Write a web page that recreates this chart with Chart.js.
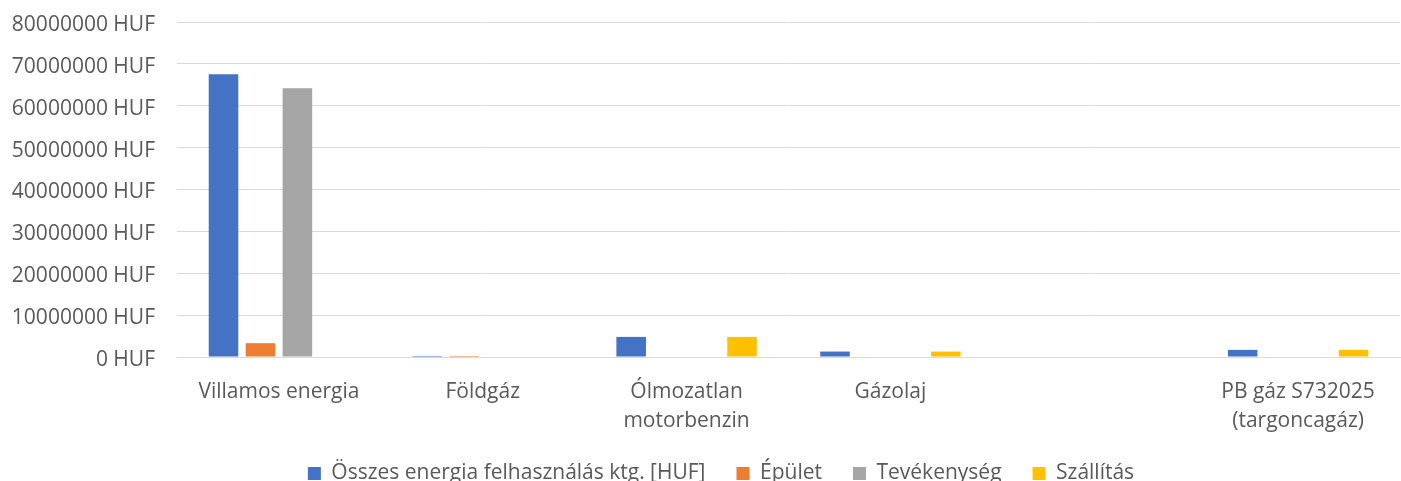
<!DOCTYPE html>
<html>
<head>
<meta charset="utf-8">
<script src="https://cdn.jsdelivr.net/npm/chart.js@4/dist/chart.umd.min.js"></script>
<style>
  html, body { margin: 0; padding: 0; background: #fff; }
  #wrap { width: 1401px; height: 481px; position: relative; }
</style>
</head>
<body>
<div id="wrap"><canvas id="chart"></canvas></div>
<script>
// Kategóriák és sorozatok (értékek)
const kategoriak = [
  'Villamos energia',
  'Földgáz',
  ['Ólmozatlan', 'motorbenzin'],
  'Gázolaj',
  '',
  ['PB gáz S732025', '(targoncagáz)']
];
const osszesKtg = [67500000, 250000, 4800000, 1300000, 0, 1700000];
const epulet = [3300000, 250000, 0, 0, 0, 0];
const tevekenyseg = [64200000, 0, 0, 0, 0, 0];
const szallitas = [0, 0, 4800000, 1300000, 0, 1700000];

const sorozatNevek = ['Összes energia felhasználás ktg. [HUF]', 'Épület', 'Tevékenység', 'Szállítás'];
const szinek = ['#4472c4', '#ed7d31', '#a5a5a5', '#ffc000'];

const ctx = document.getElementById('chart').getContext('2d');
Chart.defaults.font.family = '"Open Sans", "Noto Sans", sans-serif';
Chart.defaults.color = '#595959';

// jelmagyarázat kicsit jobbra, mint az eredetin
const legendShift = {
  id: 'legendShift',
  afterLayout(chart) {
    chart.legend.left += 16;
    chart.legend.right += 16;
  }
};

new Chart(ctx, {
  type: 'bar',
  data: {
    labels: kategoriak,
    datasets: [osszesKtg, epulet, tevekenyseg, szallitas].map((d, i) => ({
      label: sorozatNevek[i],
      data: d,
      backgroundColor: szinek[i],
      borderWidth: 0,
      barPercentage: 0.8,
      categoryPercentage: 0.725
    }))
  },
  options: {
    responsive: true,
    maintainAspectRatio: false,
    animation: false,
    layout: { padding: { top: 22, right: 1, left: 10, bottom: -13 } },
    scales: {
      x: {
        grid: { display: false, drawTicks: false },
        border: { color: '#d9d9d9' },
        ticks: { font: { size: 21, lineHeight: 1.4 }, color: '#595959', padding: 20, maxRotation: 0, autoSkip: false },
        afterFit: (scale) => { scale.height = 75; }
      },
      y: {
        min: 0,
        max: 80000000,
        grid: { color: '#d9d9d9', drawTicks: false },
        border: { display: false },
        ticks: {
          stepSize: 10000000,
          font: { size: 21 },
          color: '#595959',
          padding: 22,
          labelOffset: 3,
          callback: (v) => v + ' HUF'
        },
        afterFit: (scale) => {
          scale.width = 167;
          scale.paddingTop = 0;
          scale.paddingBottom = 0;
        }
      }
    },
    plugins: {
      tooltip: { enabled: false },
      legend: {
        position: 'bottom',
        labels: { font: { size: 21 }, color: '#595959', boxWidth: 13, boxHeight: 13, padding: 31 }
      }
    }
  },
  plugins: [legendShift]
});
</script>
</body>
</html>
